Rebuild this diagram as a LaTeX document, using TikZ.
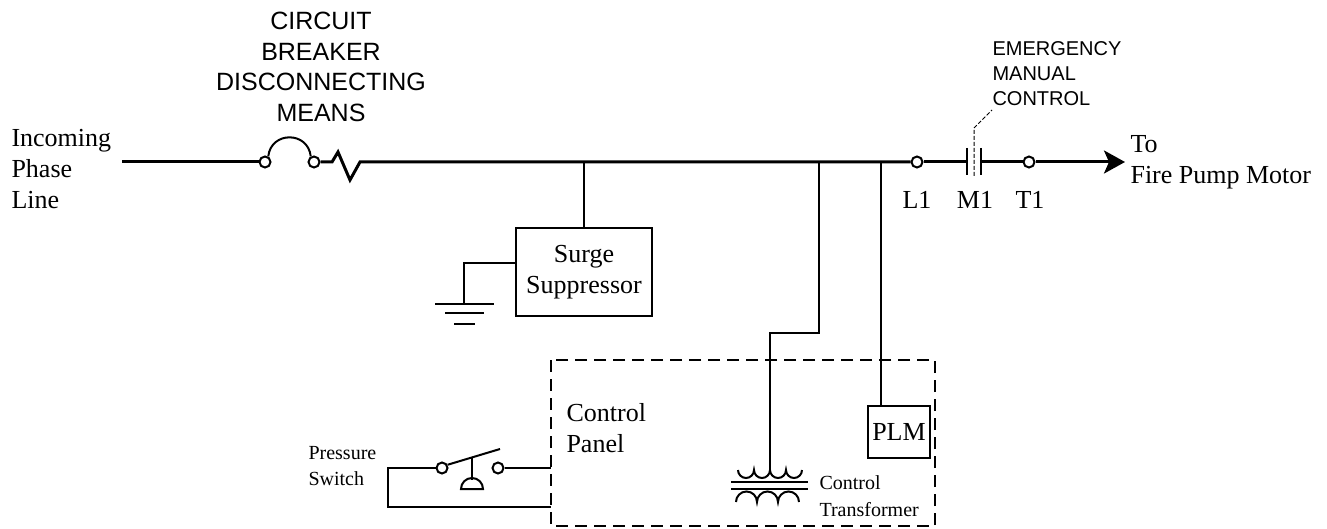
\documentclass[tikz,border=0pt]{standalone}
\usepackage{fontspec}
\setmainfont{Liberation Serif}
\setsansfont{Liberation Sans}
\usetikzlibrary{arrows.meta}

\tikzset{wire/.style={line width=2pt},
         mainwire/.style={line width=3pt},
         terminal/.style={circle,draw,line width=2pt,fill=white,inner sep=0pt,minimum size=11pt},
         panel/.style={line width=2pt,dash pattern=on 12pt off 7pt},
         lbl/.style={font=\fontsize{26}{31}\selectfont,align=left},
         small/.style={font=\fontsize{20}{26}\selectfont,align=left},
         caps/.style={font=\sffamily\fontsize{25}{30.5}\selectfont,align=center},
         box/.style={draw,line width=2pt,inner sep=0pt}}

\begin{document}
\begin{tikzpicture}[x=1pt,y=-1pt]
                  \useasboundingbox (0,0) rectangle (1327,529);
                  % incoming line and breaker
                  \node[lbl,anchor=west] (incoming) at (8,169) {Incoming\\Phase\\Line};
                  \node[caps] (breaker) at (321,67) {CIRCUIT\\BREAKER\\DISCONNECTING\\MEANS};
                  \coordinate (in) at (122,162);
                  \node[terminal] (b1) at (265,162) {};
                  \node[terminal] (b2) at (314,162) {};
                  \node[terminal] (l1) at (917,162) {};
                  \node[terminal] (t1) at (1029,162) {};
                  \coordinate (js) at (584,162);
                  \coordinate (jt) at (819,162);
                  \coordinate (jp) at (881,162);
                  \coordinate (motor) at (1125,162);
                  \draw[mainwire] (in) -- (b1);
                  \draw[wire] (b1.60) .. controls (271,131) and (308,131) .. (b2.120);
                  \draw[mainwire] (b2) -- (332,162) -- (338,152) -- (350,180) -- (360,162) -- (l1);
                  % contactor
                  \draw[mainwire] (l1) -- (967,162);
                  \draw[wire] (967,148) -- (967,175);
                  \draw[wire] (981,148) -- (981,175);
                  \draw[mainwire] (981,162) -- (t1);
                  \draw[line width=1pt,dash pattern=on 4pt off 2pt] (974,176) -- (974,128) -- (992,110);
                  \draw[mainwire,-{Stealth[length=21pt,width=23pt,inset=5pt]}] (t1) -- (motor);
                  \node[lbl] at (917,200) {L1};
                  \node[lbl] at (975,200) {M1};
                  \node[lbl] at (1030,200) {T1};
                  \node[font=\sffamily\fontsize{20}{25}\selectfont,align=left,anchor=west] (emc) at (989,74) {EMERGENCY\\MANUAL\\CONTROL};
                  \node[lbl,anchor=west] (motorlbl) at (1127,162) {To\\Fire Pump Motor};
                  % surge suppressor and ground
                  \node[box,lbl,align=center,minimum width=136pt,minimum height=87pt] (surge) at (584,272) {Surge\\Suppressor};
                  \draw[wire] (js) -- (surge);
                  \draw[wire] ([yshift=9pt]surge.west) -- (464,263) -- (464,304);
                  \draw[wire] (435,304) -- (494,304);
                  \draw[wire] (445,313) -- (484,313);
                  \draw[wire] (454,324) -- (475,324);
                  % control panel
                  \draw[panel] (551,360) rectangle (935,526);
                  \node[lbl,anchor=west] (cp) at (563,428) {Control\\Panel};
                  \node[box,lbl,minimum width=62pt,minimum height=52pt] (plm) at (899,432) {PLM};
                  \draw[wire] (jp) -- (jp |- plm.north);
                  % control transformer
                  \draw[wire] (jt) -- (819,333) -- (770,333) -- (770,470);
                  \draw[wire] (738,470) arc[start angle=180,end angle=360,radius=8pt]
                                        arc[start angle=180,end angle=360,radius=8pt]
                                        arc[start angle=180,end angle=360,radius=8pt]
                                        arc[start angle=180,end angle=360,radius=8pt];
                  \draw[wire] (731,482) -- (808,482);
                  \draw[wire] (731,489) -- (808,489);
                  \draw[wire] (736,502) arc[start angle=180,end angle=0,radius=10.5pt]
                                        arc[start angle=180,end angle=0,radius=10.5pt]
                                        arc[start angle=180,end angle=0,radius=10.5pt];
                  \node[small,anchor=west,font=\fontsize{20}{27}\selectfont] (ctlbl) at (816,496) {Control\\Transformer};
                  % pressure switch
                  \node[terminal] (ps1) at (442,468) {};
                  \node[terminal] (ps2) at (498,468) {};
                  \draw[wire] (ps2) -- (551,468);
                  \draw[wire] (ps1) -- (388,468) -- (388,507) -- (551,507);
                  \draw[wire] (ps1.30) -- (500,449);
                  \draw[wire] (472,458) -- (472,480);
                  \draw[wire] (461,489) arc[start angle=180,end angle=0,radius=11pt] -- cycle;
                  \node[small,anchor=west] (pslbl) at (305,466) {Pressure\\Switch};
              \end{tikzpicture}
\end{document}
